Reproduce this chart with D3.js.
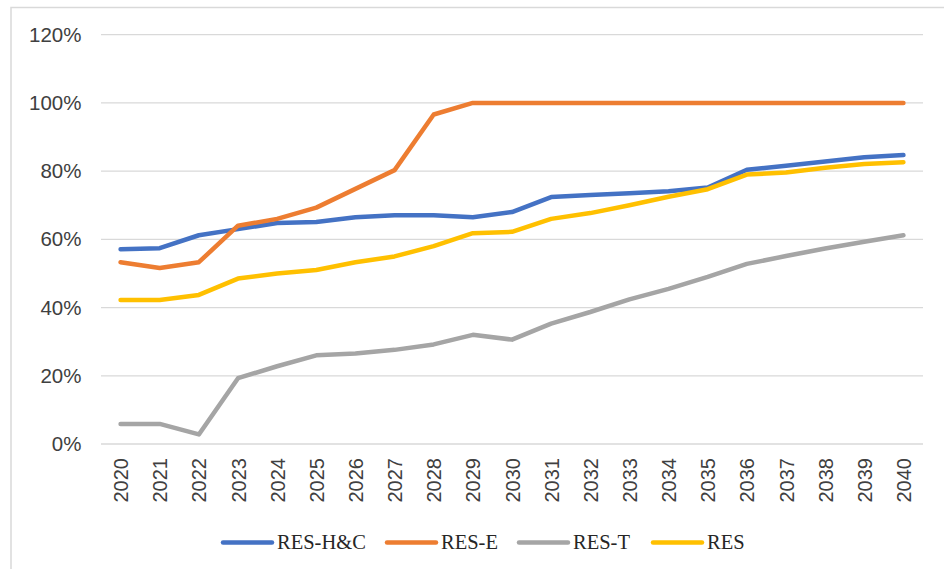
<!DOCTYPE html>
<html>
<head>
<meta charset="utf-8">
<script src="https://cdn.jsdelivr.net/npm/d3@7"></script>
<style>
    body { margin: 0; background: #fff; }
    svg { display: block; }
</style>
</head>
<body>
<div id="chart"></div>
<script>
// Years on the x axis
var years = d3.range(2020, 2041).map(String);

// Series values (share, %)
var resHC = [57.1, 57.4, 61.2, 63.0, 64.8, 65.1, 66.5, 67.1, 67.1, 66.5, 68.0,
             72.4, 73.0, 73.5, 74.1, 75.2, 80.4, 81.6, 82.8, 84.1, 84.7];
var resE  = [53.3, 51.6, 53.3, 64.0, 66.0, 69.3, 74.8, 80.3, 96.6, 100, 100,
             100, 100, 100, 100, 100, 100, 100, 100, 100, 100];
var resT  = [5.9, 5.9, 2.8, 19.3, 22.8, 26.0, 26.5, 27.6, 29.2, 32.0, 30.6,
             35.3, 38.7, 42.4, 45.5, 49.0, 52.8, 55.1, 57.3, 59.3, 61.2];
var res   = [42.2, 42.2, 43.7, 48.5, 50.0, 51.0, 53.3, 55.0, 58.0, 61.8, 62.2,
             66.0, 67.7, 70.0, 72.5, 74.7, 79.0, 79.6, 81.0, 82.1, 82.6];

var seriesNames = ["RES-H&C", "RES-E", "RES-T", "RES"];
var seriesColors = ["#4472c4", "#ed7d31", "#a5a5a5", "#ffc000"];
var yTicks = [0, 20, 40, 60, 80, 100, 120];

var allSeries = [resHC, resE, resT, res];

var width = 944, height = 569;
var margin = { top: 34.7, right: 21, bottom: 125, left: 101 };

var svg = d3.select("#chart").append("svg")
    .attr("width", width)
    .attr("height", height);

// Chart border
svg.append("rect")
    .attr("x", 11)
    .attr("y", 7.5)
    .attr("width", 1000)
    .attr("height", 1000)
    .attr("fill", "none")
    .attr("stroke", "#d9d9d9")
    .attr("stroke-width", 1.5);

// Scales
var x = d3.scalePoint()
    .domain(years)
    .range([margin.left, width - margin.right])
    .padding(0.5);

var y = d3.scaleLinear()
    .domain([0, 120])
    .range([444, margin.top]);

// Gridlines
svg.append("g")
    .attr("class", "grid")
    .selectAll("line")
    .data(yTicks)
    .enter().append("line")
    .attr("x1", margin.left)
    .attr("x2", width - margin.right)
    .attr("y1", function (d) { return y(d); })
    .attr("y2", function (d) { return y(d); })
    .attr("stroke", "#d9d9d9")
    .attr("stroke-width", 1.3);

// Y axis labels
var yAxis = d3.axisLeft(y)
    .tickValues(yTicks)
    .tickSize(0)
    .tickPadding(0)
    .tickFormat(function (d) { return d + "%"; });

svg.append("g")
    .attr("class", "y_axis")
    .attr("transform", "translate(81.5,0)")
    .call(yAxis)
    .call(function (g) { g.select(".domain").remove(); })
    .selectAll("text")
    .attr("font-family", "'Liberation Sans', Arial, sans-serif")
    .attr("font-size", 20.5)
    .attr("fill", "#404040");

// X axis labels (rotated)
var xAxis = d3.axisBottom(x)
    .tickSize(0)
    .tickPadding(0);

svg.append("g")
    .attr("class", "x_axis")
    .attr("transform", "translate(0,444)")
    .call(xAxis)
    .call(function (g) { g.select(".domain").remove(); })
    .selectAll("text")
    .attr("font-family", "'Liberation Sans', Arial, sans-serif")
    .attr("font-size", 20)
    .attr("fill", "#404040")
    .attr("transform", "rotate(-90)")
    .attr("text-anchor", "end")
    .attr("x", -14)
    .attr("y", 0)
    .attr("dy", "0.35em");

// Lines
var line = d3.line()
    .x(function (d, i) { return x(years[i]); })
    .y(function (d) { return y(d); });

allSeries.forEach(function (values, k) {
    svg.append("path")
        .datum(values)
        .attr("class", "series_line")
        .attr("d", line)
        .attr("fill", "none")
        .attr("stroke", seriesColors[k])
        .attr("stroke-width", 4.5)
        .attr("stroke-linejoin", "round")
        .attr("stroke-linecap", "round");
});

// Legend
var legendX = [223, 387, 519, 653];
var legend = svg.append("g").attr("class", "legend");

seriesNames.forEach(function (name, i) {
    legend.append("line")
        .attr("x1", legendX[i])
        .attr("x2", legendX[i] + 49)
        .attr("y1", 542.5)
        .attr("y2", 542.5)
        .attr("stroke", seriesColors[i])
        .attr("stroke-width", 4.5)
        .attr("stroke-linecap", "round");

    legend.append("text")
        .attr("x", legendX[i] + 54)
        .attr("y", 549)
        .attr("font-family", "'Liberation Serif', 'Times New Roman', serif")
        .attr("font-size", 20.5)
        .attr("fill", "#262626")
        .text(name);
});
</script>
</body>
</html>
